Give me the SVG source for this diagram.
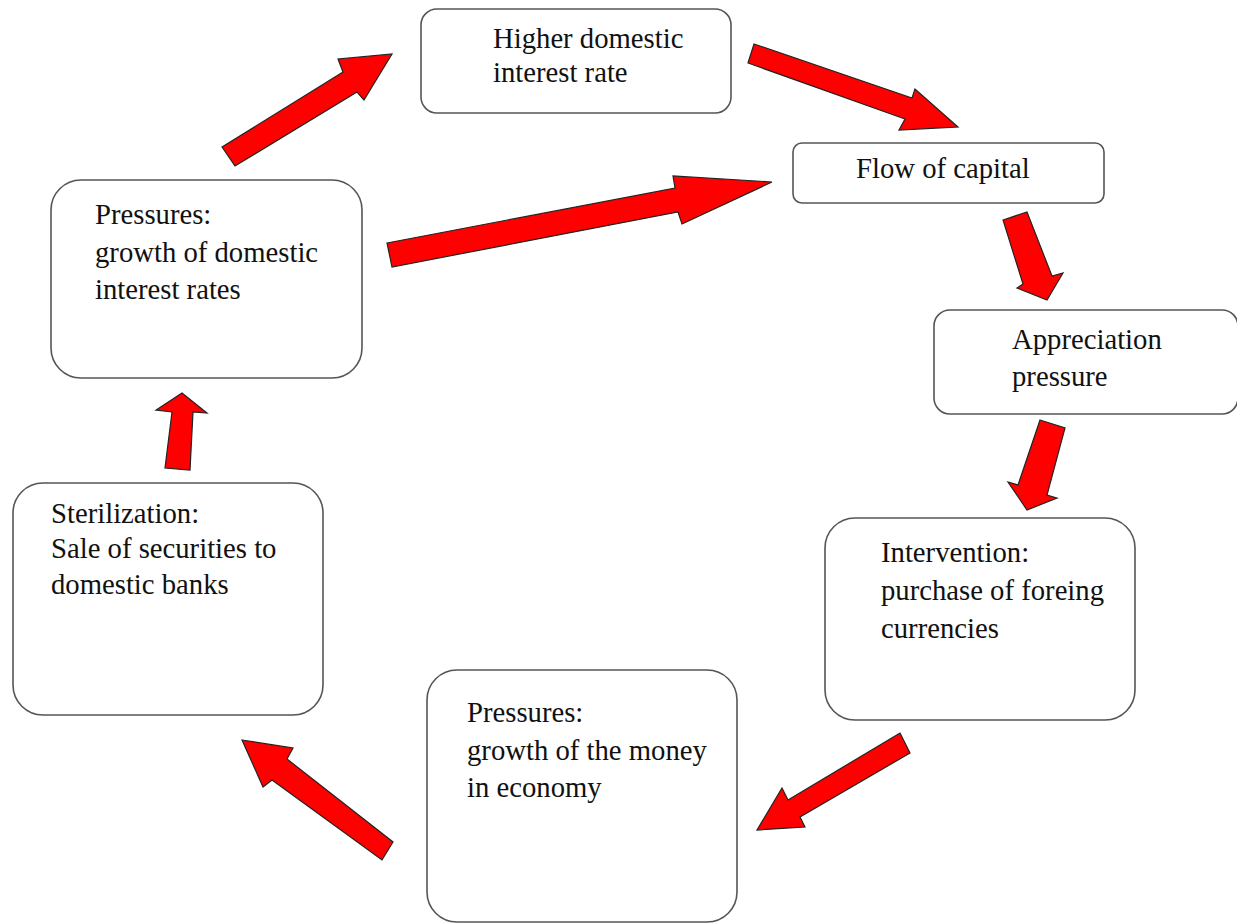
<svg xmlns="http://www.w3.org/2000/svg" width="1237" height="923" viewBox="0 0 1237 923">
<style>
.box{fill:#fff;stroke:#555;stroke-width:1.6}
.t{font-family:"Liberation Serif","Times New Roman",serif;font-size:28.7px;fill:#111}
.arr{fill:#ff0000;stroke:#222;stroke-width:1.2;stroke-linejoin:miter}
</style>
<rect width="1237" height="923" fill="#fff"/>
<g id="connectors">
<polygon class="arr" points="222,147 343,72 338,59 392,54 364,100 357,92 235,166"/>
<polygon class="arr" points="754,44 912,98 915,89 958,127 899,130 905,119 748,63"/>
<polygon class="arr" points="387,243 675,188 673,176 772,182 682,224 678,212 392,267"/>
<polygon class="arr" points="1003,220 1027,212 1052,276 1063,273 1047,300 1017,288 1023,284"/>
<polygon class="arr" points="1040,420 1065,428 1047,495 1057,498 1027,510 1008,482 1018,485"/>
<polygon class="arr" points="900,733 910,753 800,817 805,827 757,830 782,788 788,800"/>
<polygon class="arr" points="242,740 293,748 287,759 393,842 382,860 272,780 263,787"/>
<polygon class="arr" points="182,393 207,413 193,412 190,470 165,468 172,412 156,410"/>
</g>
<g id="n-higher">
<rect class="box" x="421" y="9" width="310" height="104" rx="16"/>
<text class="t" x="493" y="48">Higher domestic</text>
<text class="t" x="493" y="82">interest rate</text>
</g>
<g id="n-flow">
<rect class="box" x="793" y="143" width="311" height="60" rx="9"/>
<text class="t" x="856" y="178">Flow of capital</text>
</g>
<g id="n-pressures-rates">
<rect class="box" x="51" y="180" width="311" height="198" rx="30"/>
<text class="t" x="95" y="224">Pressures:</text>
<text class="t" x="95" y="262">growth of domestic</text>
<text class="t" x="95" y="299">interest rates</text>
</g>
<g id="n-appreciation">
<rect class="box" x="934" y="310" width="304" height="104" rx="16"/>
<text class="t" x="1012" y="349">Appreciation</text>
<text class="t" x="1012" y="386">pressure</text>
</g>
<g id="n-intervention">
<rect class="box" x="825" y="518" width="310" height="202" rx="30"/>
<text class="t" x="881" y="562">Intervention:</text>
<text class="t" x="881" y="600">purchase of foreing</text>
<text class="t" x="881" y="638">currencies</text>
</g>
<g id="n-pressures-money">
<rect class="box" x="427" y="670" width="310" height="252" rx="30"/>
<text class="t" x="467" y="722">Pressures:</text>
<text class="t" x="467" y="760">growth of the money</text>
<text class="t" x="467" y="797">in economy</text>
</g>
<g id="n-sterilization">
<rect class="box" x="13" y="483" width="310" height="232" rx="30"/>
<text class="t" x="51" y="523">Sterilization:</text>
<text class="t" x="51" y="558">Sale of securities to</text>
<text class="t" x="51" y="594">domestic banks</text>
</g>
</svg>
